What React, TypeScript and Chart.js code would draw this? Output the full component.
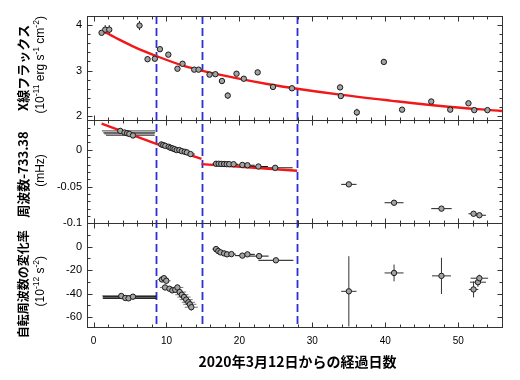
import React, { useEffect, useRef } from 'react';
import { Chart, registerables } from 'chart.js';

Chart.register(...registerables);

// ---------- shared x axis ----------
const X_MIN = -0.9;
const X_MAX = 56;
const X_TICKS = [0, 10, 20, 30, 40, 50];
const BREAK_DAYS = [8.6, 14.8, 27.9];

// ---------- panel 1: X-ray flux (1e-11 erg/s/cm2) ----------
const fluxDays = [1.1, 1.6, 2.15, 6.3, 7.4, 8.4, 9.1, 10.25, 11.5, 12.2, 13.8, 14.4, 15.9, 16.7, 17.6, 18.4, 19.6, 20.6, 22.5, 24.6, 27.2, 33.8, 33.9, 36.1, 39.8, 42.3, 46.3, 48.9, 51.4, 52.2, 54.0];
const fluxValues = [3.83, 3.9, 3.9, 3.99, 3.25, 3.26, 3.47, 3.35, 3.04, 3.15, 3.02, 3.02, 2.91, 2.92, 2.77, 2.45, 2.93, 2.82, 2.96, 2.64, 2.61, 2.63, 2.44, 2.08, 3.19, 2.14, 2.32, 2.14, 2.28, 2.13, 2.13];
const fluxErr = [0.04, 0.1, 0.1, 0.1, 0.06, 0.04, 0.04, 0.04, 0.05, 0.04, 0.04, 0.04, 0.04, 0.04, 0.05, 0.07, 0.04, 0.04, 0.04, 0.04, 0.04, 0.04, 0.05, 0.08, 0.06, 0.04, 0.04, 0.04, 0.04, 0.04, 0.04];
const fluxFitDays = [1.4, 3.4, 5.7, 8.6, 12.6, 14.8, 19.4, 24, 27.9, 33.8, 40.7, 47.6, 56];
const fluxFitValues = [3.86, 3.69, 3.51, 3.32, 3.09, 3.0, 2.84, 2.7, 2.6, 2.47, 2.34, 2.22, 2.11];

// ---------- panel 2: frequency - 733.38 (mHz) ----------
const freqSeg1Days = [3.66, 4.25, 4.6, 4.9, 5.4];
const freqSeg1Values = [0.0257, 0.0235, 0.0226, 0.0216, 0.0195];
const freqSeg1ErrMinus = [2.5, 2.9, 3.2, 3.4, 3.7];
const freqSeg1ErrPlus = [4.8, 4.2, 3.8, 3.4, 3.0];

const freqSeg2Days = [9.29, 9.56, 9.84, 10.3, 10.56, 10.84, 11.1, 11.4, 11.76, 12.1, 12.5, 12.8, 13.3];
const freqSeg2Values = [0.0073, 0.0064, 0.0054, 0.0041, 0.0027, 0.0019, 0.0009, -0.0004, -0.0004, -0.0018, -0.0027, -0.0035, -0.0058];
const freqSeg2Err = [0.6, 0.6, 0.6, 0.6, 0.6, 0.6, 0.6, 0.6, 0.6, 0.6, 0.6, 0.6, 0.6];

const freqSeg3Days = [16.8, 17.15, 17.5, 17.9, 18.25, 18.6, 19.2, 20.4, 21.1, 22.6, 24.9];
const freqSeg3Values = [-0.019, -0.019, -0.0192, -0.0193, -0.0195, -0.0195, -0.0196, -0.0206, -0.021, -0.0227, -0.0245];
const freqSeg3Err = [0.5, 0.6, 0.6, 0.6, 0.6, 0.6, 0.6, 1.0, 1.0, 1.3, 2.4];

const freqSeg4Days = [35.0, 41.2, 47.7, 52.1, 52.9];
const freqSeg4Values = [-0.047, -0.072, -0.08, -0.087, -0.089];
const freqSeg4Err = [1.05, 1.3, 1.4, 0.7, 0.9];

const freqFitADays = [1.1, 8.6, 14.8];
const freqFitAValues = [0.0355, 0.0081, -0.0122];
const freqFitBDays = [14.8, 27.9];
const freqFitBValues = [-0.0195, -0.0285];

// ---------- panel 3: spin frequency derivative (1e-12 s^-2) ----------
const fdotSeg1Days = [3.8, 4.35, 4.8, 5.4];
const fdotSeg1Values = [-42.1, -43.8, -44.1, -42.7];
const fdotSeg1ErrMinus = [2.6, 3.1, 3.5, 4.1];
const fdotSeg1ErrPlus = [4.8, 4.2, 3.8, 3.2];

const fdotSeg2Days = [9.38, 9.65, 9.97, 9.8, 10.4, 10.8, 11.2, 11.5, 11.8, 12.1, 12.4, 12.7, 13.0, 13.2, 13.4];
const fdotSeg2Values = [-28.0, -26.9, -29.1, -34.8, -35.9, -37.3, -36.8, -34.8, -38.7, -41.0, -43.0, -45.2, -47.5, -49.2, -51.7];
const fdotSeg2XErr = [0.6, 0.6, 0.6, 0.7, 0.7, 0.7, 0.8, 0.8, 0.9, 0.9, 0.9, 0.9, 0.9, 0.9, 0.9];
const fdotSeg2YErr = [2, 2, 2, 2, 2, 2, 2.5, 2.5, 3, 3, 3, 3, 3, 3, 3];

const fdotSeg3Days = [16.8, 17.1, 17.4, 17.9, 18.3, 18.9, 20.4, 21.1, 22.7, 25.0];
const fdotSeg3Values = [-2.0, -3.7, -4.8, -5.7, -6.5, -6.3, -7.6, -6.5, -8.0, -11.6];
const fdotSeg3Err = [0.5, 0.6, 0.6, 0.6, 0.6, 0.6, 1.0, 1.0, 1.3, 2.4];

const fdotSeg4Days = [35.0, 41.2, 47.7, 52.1, 52.7, 52.9];
const fdotSeg4Values = [-38.1, -22.4, -24.9, -36.5, -30.3, -26.9];
const fdotSeg4XErr = [1.05, 1.3, 1.3, 0.65, 1.1, 1.2];
const fdotSeg4YErr = [30, 7.2, 15.5, 6.8, 4, 3];

// ---------- texts ----------
const X_TITLE = '2020年3月12日からの経過日数';
const PANEL_TITLES = [
  { axis: 'yTop', title: 'X線フラックス', unit: [['(10', false], ['-11', true], [' erg s', false], ['-1', true], [' cm', false], ['-2', true], [')', false]] },
  { axis: 'yMid', title: '周波数-733.38', unit: [['(mHz)', false]] },
  { axis: 'yBot', title: '自転周波数の変化率', unit: [['(10', false], ['-12', true], [' s', false], ['-2', true], [')', false]] },
];

// ---------- helpers ----------
type P = { x: number; y: number; xm: number; xp: number; ye: number };
function makePoints(days: number[], vals: number[], xm: number[] | null, xp: number[] | null, ye: number[] | null): P[] {
  return days.map((d, i) => ({
    x: d,
    y: vals[i],
    xm: xm ? xm[i] : 0,
    xp: xp ? xp[i] : 0,
    ye: ye ? ye[i] : 0,
  }));
}
function makeLine(days: number[], vals: number[]) {
  return days.map((d, i) => ({ x: d, y: vals[i] }));
}

const POINT_FILL = '#a3a3a3';
const POINT_EDGE = '#1a1a1a';
const RED = '#f01818';
const BLUE = '#2e2ed6';
const FRAME = '#333333';
const SANS = "'Liberation Sans', Arial, Helvetica, sans-serif";
const CJK = "'Noto Sans CJK JP', 'Noto Sans', sans-serif";

function scatterSet(axis: string, data: P[], errColor: string, errWidth = 1) {
  return {
    type: 'scatter' as const,
    yAxisID: axis,
    data,
    showLine: false,
    pointRadius: 2.7,
    pointBackgroundColor: POINT_FILL,
    pointBorderColor: POINT_EDGE,
    pointBorderWidth: 1,
    errColor,
    errWidth,
    order: 1,
  };
}
function fitSet(axis: string, data: { x: number; y: number }[], smooth: boolean) {
  return {
    type: 'line' as const,
    yAxisID: axis,
    data,
    borderColor: RED,
    borderWidth: 2.4,
    pointRadius: 0,
    fill: false,
    cubicInterpolationMode: smooth ? ('monotone' as const) : ('default' as const),
    tension: 0,
    order: 2,
  };
}

const AXIS_INFO: Record<string, { minor: number; major: number }> = {
  yTop: { minor: 0.2, major: 1 },
  yMid: { minor: 0.01, major: 0.05 },
  yBot: { minor: 10, major: 20 },
};

function isMultiple(v: number, step: number) {
  const r = v / step;
  return Math.abs(r - Math.round(r)) < 1e-6;
}

const decorPlugin = {
  id: 'decor',
  beforeDatasetsDraw(chart: any) {
    const ctx = chart.ctx as CanvasRenderingContext2D;
    const area = chart.chartArea;
    const xs = chart.scales.x;
    ctx.save();
    ctx.strokeStyle = BLUE;
    ctx.lineWidth = 1.8;
    ctx.setLineDash([8, 4]);
    for (const d of BREAK_DAYS) {
      const px = Math.round(xs.getPixelForValue(d)) + 0.5;
      ctx.beginPath();
      ctx.moveTo(px, area.top);
      ctx.lineTo(px, area.bottom);
      ctx.stroke();
    }
    ctx.restore();
    chart.data.datasets.forEach((ds: any) => {
      if (!ds.errColor) return;
      const ys = chart.scales[ds.yAxisID];
      ctx.save();
      ctx.beginPath();
      ctx.rect(area.left, ys.top, area.right - area.left, ys.bottom - ys.top);
      ctx.clip();
      ctx.strokeStyle = ds.errColor;
      ctx.lineWidth = ds.errWidth;
      for (const p of ds.data as P[]) {
        const cx = xs.getPixelForValue(p.x);
        const cy = ys.getPixelForValue(p.y);
        ctx.beginPath();
        if (p.xm || p.xp) {
          ctx.moveTo(xs.getPixelForValue(p.x - p.xm), cy);
          ctx.lineTo(xs.getPixelForValue(p.x + p.xp), cy);
        }
        if (p.ye) {
          ctx.moveTo(cx, ys.getPixelForValue(p.y - p.ye));
          ctx.lineTo(cx, ys.getPixelForValue(p.y + p.ye));
        }
        ctx.stroke();
      }
      ctx.restore();
    });
  },
  afterDatasetsDraw(chart: any) {
    const ctx = chart.ctx as CanvasRenderingContext2D;
    const area = chart.chartArea;
    const xs = chart.scales.x;
    ctx.save();
    ctx.strokeStyle = FRAME;
    ctx.lineWidth = 1;
    ctx.setLineDash([]);
    for (const id of ['yTop', 'yMid', 'yBot']) {
      const ys = chart.scales[id];
      const top = Math.round(ys.top) + 0.5;
      const bottom = Math.round(ys.bottom) + 0.5;
      const left = Math.round(area.left) + 0.5;
      const right = Math.round(area.right) + 0.5;
      ctx.strokeRect(left, top, right - left, bottom - top);
      for (let v = Math.ceil(X_MIN / 2) * 2; v <= X_MAX + 1e-9; v += 2) {
        const px = Math.round(xs.getPixelForValue(v)) + 0.5;
        const len = isMultiple(v, 10) ? 5 : 3;
        ctx.beginPath();
        ctx.moveTo(px, top);
        ctx.lineTo(px, top + len);
        ctx.moveTo(px, bottom);
        ctx.lineTo(px, bottom - len);
        ctx.stroke();
      }
      const info = AXIS_INFO[id];
      const start = Math.ceil(ys.min / info.minor - 1e-6) * info.minor;
      for (let v = start; v <= ys.max + 1e-9; v += info.minor) {
        const py = Math.round(ys.getPixelForValue(v)) + 0.5;
        const len = isMultiple(v, info.major) ? 5 : 3;
        ctx.beginPath();
        ctx.moveTo(left, py);
        ctx.lineTo(left + len, py);
        ctx.moveTo(right, py);
        ctx.lineTo(right - len, py);
        ctx.stroke();
      }
    }
    ctx.restore();

    // axis titles
    ctx.save();
    ctx.fillStyle = '#000';
    const offsets: Record<string, [number, number, number]> = { yTop: [0, -3, 13], yMid: [3, -1, 13], yBot: [9, 6, 12] };
    for (const t of PANEL_TITLES) {
      const ys = chart.scales[t.axis];
      const cy = (ys.top + ys.bottom) / 2;
      const [ob, ou, size] = offsets[t.axis];
      ctx.save();
      ctx.translate(23, cy + ob);
      ctx.rotate(-Math.PI / 2);
      ctx.font = `bold ${size}px ${CJK}`;
      ctx.textAlign = 'center';
      ctx.textBaseline = 'middle';
      ctx.fillText(t.title, 0, 0);
      ctx.restore();
      ctx.save();
      ctx.translate(41, cy + ou);
      ctx.rotate(-Math.PI / 2);
      ctx.textAlign = 'left';
      ctx.textBaseline = 'middle';
      const fontN = `12px ${SANS}`;
      const fontS = `8.5px ${SANS}`;
      let total = 0;
      const widths = t.unit.map(([s, sup]) => {
        ctx.font = sup ? fontS : fontN;
        const w = ctx.measureText(s as string).width;
        total += w;
        return w;
      });
      let x = -total / 2;
      t.unit.forEach(([s, sup], i) => {
        ctx.font = sup ? fontS : fontN;
        ctx.fillText(s as string, x, sup ? -4 : 0);
        x += widths[i];
      });
      ctx.restore();
    }
    ctx.font = `bold 14px ${CJK}`;
    ctx.textAlign = 'center';
    ctx.textBaseline = 'middle';
    ctx.fillText(X_TITLE, (area.left + area.right) / 2 + 3, 362);
    ctx.restore();
  },
};

function yAxis(min: number, max: number, ticks: number[], fmt: (v: number) => string) {
  return {
    type: 'linear' as const,
    position: 'left' as const,
    stack: 'panels',
    stackWeight: 1,
    min,
    max,
    grid: { display: false, drawTicks: false },
    border: { display: false },
    ticks: {
      autoSkip: false,
      padding: 5,
      color: '#000',
      font: { family: SANS, size: 11 },
      callback: (v: any) => fmt(Number(v)),
    },
    afterBuildTicks: (s: any) => {
      s.ticks = ticks.map((v) => ({ value: v }));
    },
    afterFit: (s: any) => {
      s.width = 87;
    },
  };
}

export default function App() {
  const ref = useRef<HTMLCanvasElement>(null);
  useEffect(() => {
    const canvas = ref.current;
    if (!canvas) return;
    const datasets: any[] = [
      scatterSet('yTop', makePoints(fluxDays, fluxValues, null, null, fluxErr), '#222'),
      fitSet('yTop', makeLine(fluxFitDays, fluxFitValues), true),

      scatterSet('yMid', makePoints(freqSeg1Days, freqSeg1Values, freqSeg1ErrMinus, freqSeg1ErrPlus, null), '#666', 1.2),
      scatterSet('yMid', makePoints(freqSeg2Days, freqSeg2Values, freqSeg2Err, freqSeg2Err, null), '#333', 1),
      scatterSet('yMid', makePoints(freqSeg3Days, freqSeg3Values, freqSeg3Err, freqSeg3Err, null), '#111', 1),
      scatterSet('yMid', makePoints(freqSeg4Days, freqSeg4Values, freqSeg4Err, freqSeg4Err, null), '#222'),
      fitSet('yMid', makeLine(freqFitADays, freqFitAValues), false),
      fitSet('yMid', makeLine(freqFitBDays, freqFitBValues), false),

      scatterSet('yBot', makePoints(fdotSeg1Days, fdotSeg1Values, fdotSeg1ErrMinus, fdotSeg1ErrPlus, null), '#111', 1),
      scatterSet('yBot', makePoints(fdotSeg2Days, fdotSeg2Values, fdotSeg2XErr, fdotSeg2XErr, fdotSeg2YErr), '#777', 1),
      scatterSet('yBot', makePoints(fdotSeg3Days, fdotSeg3Values, fdotSeg3Err, fdotSeg3Err, null), '#111', 1),
      scatterSet('yBot', makePoints(fdotSeg4Days, fdotSeg4Values, fdotSeg4XErr, fdotSeg4XErr, fdotSeg4YErr), '#333'),
    ];
    const chart = new Chart(canvas, {
      type: 'scatter',
      data: { datasets },
      options: {
        animation: false,
        responsive: false,
        devicePixelRatio: 1,
        layout: { padding: { top: 16, right: 18, left: 0, bottom: 0 } },
        plugins: { legend: { display: false }, tooltip: { enabled: false } },
        scales: {
          x: {
            type: 'linear',
            position: 'bottom',
            min: X_MIN,
            max: X_MAX,
            grid: { display: false, drawTicks: false },
            border: { display: false },
            ticks: {
              autoSkip: false,
              maxRotation: 0,
              padding: 8,
              color: '#000',
              font: { family: SANS, size: 10 },
              callback: (v: any) => String(v),
            },
            afterBuildTicks: (s: any) => {
              s.ticks = X_TICKS.map((v) => ({ value: v }));
            },
            afterFit: (s: any) => {
              s.height = 53;
            },
          },
          // stacked panels: listed bottom-first (Chart.js stacks the first one at the bottom)
          yBot: yAxis(-68.6, 20, [-60, -40, -20, 0], (v) => String(v)),
          yMid: yAxis(-0.1, 0.041, [-0.1, -0.05, 0], (v) => (v === 0 ? '0' : String(v))),
          yTop: yAxis(1.92, 4.2, [2, 3, 4], (v) => String(v)),
        } as any,
      },
      plugins: [decorPlugin],
    } as any);
    return () => chart.destroy();
  }, []);
  return (
    <div style={{ position: 'fixed', left: 0, top: 0, width: 520, height: 380, background: '#fff' }}>
      <canvas ref={ref} width={520} height={380} style={{ display: 'block', width: 520, height: 380 }} />
    </div>
  );
}
